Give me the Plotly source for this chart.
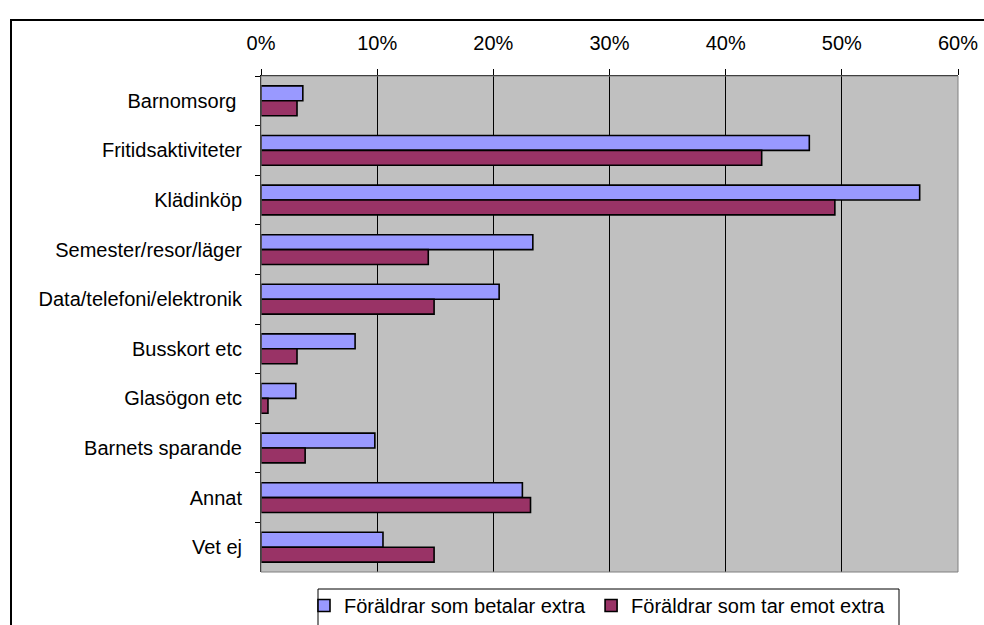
import plotly.graph_objects as go

# Survey categories (top to bottom)
categories = [
    "Barnomsorg ",
    "Fritidsaktiviteter",
    "Klädinköp",
    "Semester/resor/läger",
    "Data/telefoni/elektronik",
    "Busskort etc",
    "Glasögon etc",
    "Barnets sparande",
    "Annat",
    "Vet ej",
]

# Share of parents (fractions)
betalar_extra = [0.036, 0.472, 0.567, 0.234, 0.205, 0.081, 0.030, 0.098, 0.225, 0.105]
tar_emot_extra = [0.031, 0.431, 0.494, 0.144, 0.149, 0.031, 0.006, 0.038, 0.232, 0.149]

series_names = ["Föräldrar som betalar extra", "Föräldrar som tar emot extra"]
tick_values = [0, 0.1, 0.2, 0.3, 0.4, 0.5, 0.6]

FONT = "Arial, Liberation Sans, sans-serif"
W, H = 984, 625
L, R, T, B = 261, 958, 76, 572

fig = go.Figure()
fig.add_trace(go.Bar(
    y=categories, x=betalar_extra, orientation="h", name=series_names[0],
    marker=dict(color="#9999FF", line=dict(color="#000000", width=1.6)),
))
fig.add_trace(go.Bar(
    y=categories, x=tar_emot_extra, orientation="h", name=series_names[1],
    marker=dict(color="#993366", line=dict(color="#000000", width=1.6)),
))

pw, ph = R - L, B - T


def px_x(p):
    return (p - L) / pw


def px_y(p):
    return (B - p) / ph


shapes = [
    # plot-area frame
    dict(type="rect", xref="paper", yref="paper", x0=0, x1=1, y0=0, y1=1,
         line=dict(color="#808080", width=1), layer="above"),
    # outer chart frame
    dict(type="rect", xref="paper", yref="paper",
         x0=px_x(11), x1=px_x(W + 10), y0=px_y(H + 10), y1=px_y(20),
         line=dict(color="#000000", width=2)),
    # legend frame
    dict(type="rect", xref="paper", yref="paper",
         x0=px_x(318), x1=px_x(899), y0=px_y(H + 10), y1=px_y(589),
         line=dict(color="#000000", width=1)),
]

fig.update_layout(
    width=W, height=H,
    margin=dict(l=L, r=W - R, t=T, b=H - B, pad=0, autoexpand=False),
    paper_bgcolor="#FFFFFF",
    plot_bgcolor="#C0C0C0",
    barmode="group",
    bargap=0.4,
    bargroupgap=0,
    font=dict(family=FONT, size=20, color="#000000"),
    showlegend=True,
    legend=dict(
        orientation="h",
        x=px_x(304), xanchor="left",
        y=px_y(586), yanchor="top",
        bgcolor="rgba(0,0,0,0)",
        borderwidth=0,
        font=dict(family=FONT, size=20),
        traceorder="normal",
    ),
    shapes=shapes,
)

fig.update_xaxes(
    side="top",
    range=[0, 0.6],
    tickvals=tick_values,
    tickformat=".0%",
    showgrid=True, gridcolor="#000000", gridwidth=1,
    zeroline=False,
    showline=True, linecolor="#000000", linewidth=1,
    ticks="outside", ticklen=6, tickcolor="#000000", tickwidth=1,
    ticklabelstandoff=11,
    tickfont=dict(family=FONT, size=20),
    fixedrange=True,
)
fig.update_yaxes(
    autorange="reversed",
    showgrid=False,
    showline=True, linecolor="#000000", linewidth=1,
    ticks="outside", ticklen=5, tickcolor="#000000", tickwidth=1,
    tickson="boundaries",
    ticklabelstandoff=14,
    tickfont=dict(family=FONT, size=20),
    fixedrange=True,
)

fig.write_html("out.html", config={"displayModeBar": False})
